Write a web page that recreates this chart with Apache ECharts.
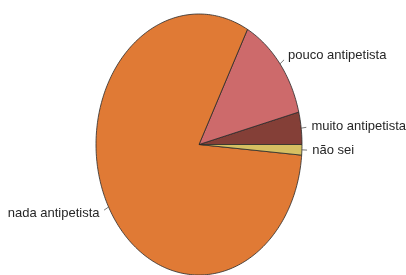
<!DOCTYPE html>
<html>
<head>
<meta charset="utf-8">
<script src="https://cdn.jsdelivr.net/npm/echarts@6/dist/echarts.min.js"></script>
<style>
  html, body { margin: 0; padding: 0; background: #fff; }
  #chart { width: 406px; height: 275px; }
</style>
</head>
<body>
<div id="chart"></div>
<script>
// slices, counterclockwise from 3 o'clock
var categories = ["muito antipetista", "pouco antipetista", "nada antipetista", "não sei"];
var shares = [4.0, 13.2, 81.5, 1.3];
var colors = ["#843f37", "#cd6a6b", "#e07a35", "#d6c062"];

var total = shares.reduce(function (a, b) { return a + b; }, 0);
var starts = [];
var acc = 0;
for (var k = 0; k < shares.length; k++) { starts.push(acc); acc += shares[k]; }

var myChart = echarts.init(document.getElementById("chart"));

function renderSlice(params, api) {
  var i = params.dataIndex;
  var a0 = starts[i] / total * Math.PI * 2;
  var a1 = (starts[i] + shares[i]) / total * Math.PI * 2;
  var pts = [api.coord([0, 0])];
  var n = Math.max(4, Math.ceil((a1 - a0) / 0.02));
  for (var j = 0; j <= n; j++) {
    var a = a0 + (a1 - a0) * j / n;
    pts.push(api.coord([Math.cos(a), Math.sin(a)]));
  }
  var mid = (a0 + a1) / 2;
  var c = Math.cos(mid), s = Math.sin(mid);
  var p1 = api.coord([c, s]);
  var p2 = api.coord([c * 1.05, s * 1.05]);
  var p3 = api.coord([c * 1.1, s * 1.1]);
  return {
    type: "group",
    children: [
      {
        type: "polygon",
        shape: { points: pts },
        style: { fill: colors[i], stroke: "#2a2a2a", lineWidth: 0.8 }
      },
      {
        type: "line",
        shape: { x1: p1[0], y1: p1[1], x2: p2[0], y2: p2[1] },
        style: { stroke: "#555", lineWidth: 0.8 }
      },
      {
        type: "text",
        x: p3[0], y: p3[1],
        style: {
          text: categories[i],
          fill: "#262626",
          font: "13px 'Liberation Sans', Arial, sans-serif",
          align: c >= 0 ? "left" : "right",
          verticalAlign: "middle"
        }
      }
    ]
  };
}

var option = {
  animation: false,
  grid: { left: 96, top: 14, width: 206, height: 264 },
  xAxis: { type: "value", min: -1, max: 1, show: false },
  yAxis: { type: "value", min: -1, max: 1, show: false },
  series: [{
    type: "custom",
    renderItem: renderSlice,
    clip: false,
    data: shares.map(function (v, i) { return [i, v]; })
  }]
};

myChart.setOption(option);
</script>
</body>
</html>
